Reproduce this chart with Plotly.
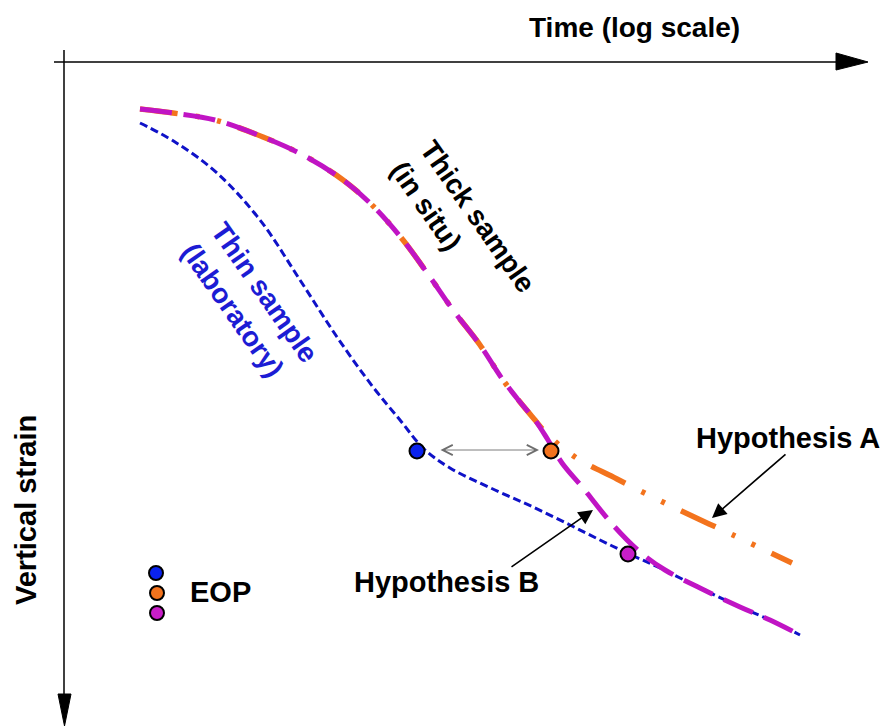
import plotly.graph_objects as go

# ---- data (schematic coordinates; y grows downward) ----
thin_x = [140, 175, 217, 260, 300, 337, 373, 400, 424, 450, 495, 533, 570, 600, 627, 660, 700, 740, 770, 800]
thin_y = [123, 142, 173, 220, 280, 337, 387, 420, 449, 468, 490, 507, 525, 540, 553, 568, 588, 607, 620, 635]

hypB_x = [140, 173, 215, 263, 303, 343, 373, 403, 430, 453, 480, 503, 520, 535, 548, 562, 583, 613, 640, 665, 700, 740, 770, 800]
hypB_y = [109, 113, 120, 137, 155, 180, 206, 240, 277, 310, 345, 380, 402, 420, 440, 463, 488, 525, 552, 570, 588, 607, 620, 635]

hypA_x = [140, 173, 215, 263, 303, 343, 373, 403, 430, 453, 480, 503, 520, 535, 546, 575, 617, 673, 733, 792]
hypA_y = [109, 113, 120, 137, 155, 180, 206, 240, 277, 310, 345, 380, 402, 420, 433, 457, 479, 507, 535, 563]

eop_x = [417, 551, 628]
eop_y = [451, 451, 554]
legend_dot_x = [156, 157, 157]
legend_dot_y = [573, 593, 613]

BLUE_LINE = "#0f12c8"
BLUE_TEXT = "#1c1cd4"
MAGENTA = "#c014c4"
ORANGE = "#f3731d"
DOT_COLORS = ["#0a22ee", "#f3731d", "#c81ec8"]
FONT = "Liberation Sans, Arial, sans-serif"

fig = go.Figure()

fig.add_trace(go.Scatter(x=thin_x, y=thin_y, mode="lines",
                         line=dict(color=BLUE_LINE, width=3, shape="spline",
                                   dash="8px,4px"),
                         hoverinfo="skip"))
fig.add_trace(go.Scatter(x=hypA_x, y=hypA_y, mode="lines",
                         line=dict(color=ORANGE, width=5.5, shape="spline",
                                   dash="38px,18px,4px,18px,4px,18px"),
                         hoverinfo="skip"))
fig.add_trace(go.Scatter(x=hypB_x, y=hypB_y, mode="lines",
                         line=dict(color=MAGENTA, width=5, shape="spline",
                                   dash="32px,12px"),
                         hoverinfo="skip"))
fig.add_trace(go.Scatter(x=eop_x, y=eop_y, mode="markers",
                         marker=dict(size=15, color=DOT_COLORS,
                                     line=dict(color="black", width=2)),
                         hoverinfo="skip"))
fig.add_trace(go.Scatter(x=legend_dot_x, y=legend_dot_y, mode="markers",
                         marker=dict(size=14, color=DOT_COLORS,
                                     line=dict(color="black", width=2)),
                         hoverinfo="skip"))

# ---- axes drawn as arrows ----
shapes = [
    dict(type="line", x0=54, y0=62, x1=838, y1=62, line=dict(color="black", width=1.5)),
    dict(type="path", path="M 836 53 L 868 62 L 836 70 Z", fillcolor="black",
         line=dict(color="black", width=1)),
    dict(type="line", x0=64, y0=50, x1=64, y1=696, line=dict(color="black", width=1.5)),
    dict(type="path", path="M 58 694 L 71 694 L 64.5 726 Z", fillcolor="black",
         line=dict(color="black", width=1)),
]

ann = []
def text(x, y, s, size=29, color="black", angle=0, align="center"):
    ann.append(dict(x=x, y=y, xref="x", yref="y", text=s, showarrow=False,
                    textangle=angle, align=align,
                    font=dict(family=FONT, size=size, color=color, weight="bold")))

text(634, 27, "Time (log scale)", size=28)
text(26, 510, "Vertical strain", angle=-90)
text(463, 226, "Thick sample<br>(in situ)", angle=55, align="left", size=28)
text(250, 302, "Thin sample<br>(laboratory)", angle=55, align="left", color=BLUE_TEXT, size=28)
text(220, 592, "EOP")
text(788, 438, "Hypothesis A")
text(446, 582, "Hypothesis B")

# pointer arrows
ann.append(dict(x=712, y=518, ax=787, ay=453, xref="x", yref="y", axref="x", ayref="y",
                text="", showarrow=True, arrowhead=2, arrowsize=1.8, arrowwidth=1.6,
                arrowcolor="black"))
ann.append(dict(x=593, y=510, ax=510, ay=568, xref="x", yref="y", axref="x", ayref="y",
                text="", showarrow=True, arrowhead=2, arrowsize=1.8, arrowwidth=1.6,
                arrowcolor="black"))
# double arrow between EOPs
ann.append(dict(x=539, y=450, ax=439, ay=450, xref="x", yref="y", axref="x", ayref="y",
                text="", showarrow=True, arrowhead=5, startarrowhead=5,
                arrowside="end+start", arrowsize=2.2, startarrowsize=2.2,
                arrowwidth=0.9, arrowcolor="#6e6e6e"))

fig.update_layout(
    width=885, height=727,
    margin=dict(l=0, r=0, t=0, b=0),
    paper_bgcolor="white", plot_bgcolor="white",
    showlegend=False,
    xaxis=dict(range=[0, 885], visible=False, fixedrange=True),
    yaxis=dict(range=[727, 0], visible=False, fixedrange=True),
    shapes=shapes,
    annotations=ann,
)

fig.write_html("out.html", config={"displayModeBar": False},
               post_script="document.body.style.margin='0';document.body.style.overflow='hidden';")
